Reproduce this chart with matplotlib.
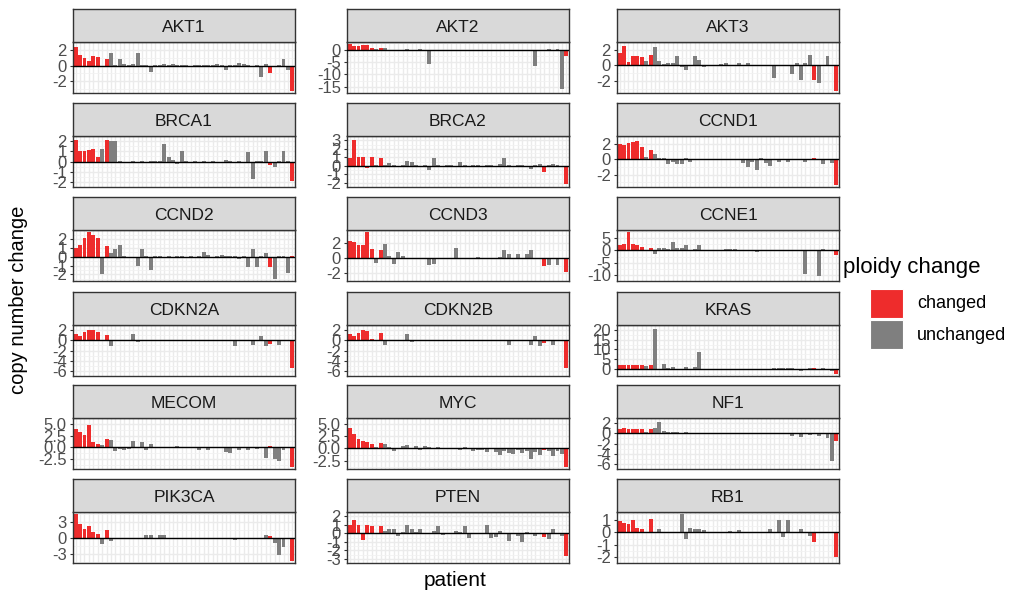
import numpy as np
import matplotlib
matplotlib.use("Agg")
import matplotlib.pyplot as plt
from matplotlib.patches import Rectangle

plt.rcParams["font.family"] = ["Liberation Sans", "DejaVu Sans"]

genes = ["AKT1", "AKT2", "AKT3", "BRCA1", "BRCA2", "CCND1",
         "CCND2", "CCND3", "CCNE1", "CDKN2A", "CDKN2B", "KRAS",
         "MECOM", "MYC", "NF1", "PIK3CA", "PTEN", "RB1"]

# patients whose ploidy changed (1-based positions on the x axis)
changed_patients = [1, 2, 3, 4, 5, 6, 8, 45, 50]

akt1 = [2.4, 1.3, 1.0, 0.6, 1.2, 1.1, -0.2, 0.8, 1.6, 0.05, 0.9, 0.2, 0.1, 0.25, 1.6, 0.05, 0.05, -0.85, 0.1, 0.05,
        0.25, 0.05, 0.15, 0.05, 0.1, 0.05, 0.0, 0.05, 0.1, 0.1, 0.1, 0.05, 0.25, 0.05, -0.5, 0.05, 0.05, 0.35, 0.15, 0.05,
        0.0, 0.05, -1.5, 0.2, -0.9, 0.0, 0.05, 0.8, -0.5, -3.2]
akt2 = [2.2, 1.3, 1.3, 1.7, 1.7, 0.7, 0.3, 0.6, 0.5, 0.05, 0.05, 0.0, 0.05, 0.3, 0.05, 0.0, 0.2, 0.05, -5.6, 0.05,
        0.0, 0.05, 0.0, 0.05, 0.0, 0.05, 0.0, 0.05, 0.0, 0.05, 0.0, 0.05, 0.0, -0.4, 0.05, 0.0, 0.05, 0.0, 0.05, 0.0,
        0.05, 0.0, -6.6, 0.05, -0.5, 0.3, 0.05, 0.1, -15.8, -2.4]
akt3 = [1.6, 2.5, 0.4, 1.15, 1.15, 1.05, 0.6, 1.35, 2.3, 0.6, 0.12, 0.3, 0.37, 1.15, -0.15, -0.6, 0.05, 1.25, 0.75, -0.15,
        0.1, 0.05, 0.05, 0.2, 0.25, 0.05, 0.05, 0.25, 0.05, 0.37, 0.05, 0.0, 0.05, 0.05, 0.05, -1.6, 0.05, 0.08, 0.05, -1.05,
        0.33, -1.85, 0.25, 1.35, -1.85, -2.3, 0.05, 1.25, 0.05, -3.25]
brca1 = [2.1, 1.05, 1.05, 1.15, 1.2, 0.45, 1.2, 2.1, 2.0, 2.0, 0.05, 0.0, -0.05, 0.05, -0.1, 0.05, 0.0, 0.05, 0.05, 0.05,
         1.75, 0.4, 0.1, -0.25, 1.0, 0.05, 0.0, 0.05, 0.0, 0.05, 0.0, 0.05, -0.05, -0.1, 0.1, 0.05, 0.0, 0.05, 0.0, 0.9,
         -1.7, 0.05, 0.05, 1.0, -0.3, -0.5, 0.05, 1.0, 0.05, -1.9]
brca2 = [0.9, 3.0, 1.05, 1.05, -0.25, 1.05, 0.05, 0.9, 0.05, 0.3, 0.05, 0.0, 0.05, 0.6, 0.4, 0.05, 0.0, 0.05, -0.5, 0.9,
         0.05, 0.0, 0.05, 0.05, 0.0, 0.45, 0.05, 0.0, 0.05, 0.05, 0.0, 0.05, 0.05, 0.0, 0.2, 0.9, 0.05, 0.0, 0.05, 0.05,
         0.0, -0.35, 0.05, 0.2, -0.7, 0.05, 0.15, 0.05, 0.0, -2.1]
ccnd1 = [2.0, 1.9, 2.1, 2.2, 2.4, 1.6, 0.3, 1.2, 0.7, 0.2, 0.1, -0.6, -0.3, -0.6, -0.6, 0.1, -0.3, 0.05, 0.05, 0.0,
         0.05, -0.1, 0.05, 0.0, 0.05, 0.0, 0.05, 0.05, -0.5, -1.0, -0.3, -1.4, 0.1, -0.5, -0.9, 0.05, -0.4, 0.05, -0.3, 0.05,
         0.05, 0.05, -0.3, 0.0, 0.2, 0.05, -0.6, 0.0, -0.5, -3.3]
ccnd2 = [1.0, 1.4, 2.2, 2.8, 2.5, 2.2, -2.0, 1.2, 0.4, 0.9, 1.35, 0.05, 0.0, -0.1, -1.0, 0.95, 0.05, -1.5, 0.05, 0.05,
         0.0, 0.05, 0.0, 0.05, 0.05, 0.0, 0.05, 0.0, 0.05, 0.5, 0.2, 0.0, 0.05, 0.25, 0.05, 0.05, 0.05, -0.2, 0.05, -1.2,
         0.95, -1.2, 0.05, 0.4, -1.2, -2.5, 0.05, 0.05, -1.85, 0.05]
ccnd3 = [2.25, 2.1, 1.7, 1.7, 3.4, 1.15, -0.7, 1.0, 1.8, 0.2, -0.8, 0.8, 0.3, 0.05, 0.05, 0.05, 0.05, 0.05, -0.95, -0.8,
         0.05, 0.05, 0.05, 0.05, 1.3, 0.05, 0.05, 0.05, 0.05, 0.15, 0.05, 0.05, 0.05, 0.05, 0.15, 1.1, 0.5, 0.05, 0.5, 0.05,
         0.5, 1.1, 0.05, 0.05, -1.0, -0.9, 0.05, -0.9, 0.05, -1.8]
ccne1 = [2.2, 2.6, 7.5, 2.6, 2.2, 1.6, 0.3, 1.0, -1.5, 1.1, 1.0, 0.6, 3.3, 1.0, 1.0, 2.3, 0.3, 0.5, 2.3, 0.2,
         0.05, 0.05, 0.05, 0.05, 0.5, 0.5, 0.5, 0.05, 0.05, 0.05, 0.05, -0.5, 0.05, 0.05, 0.05, 0.3, 0.3, 0.3, 0.05, 0.05,
         0.05, 0.05, -9.5, 0.05, 0.2, -10.5, 0.5, 0.05, 0.05, -2.0]
cdkn2a = [1.3, 0.8, 1.65, 2.0, 2.0, 1.6, 0.05, 1.1, -1.2, 0.05, 0.05, 0.05, 0.05, 1.25, -0.4, 0.05, 0.05, 0.05, 0.05, 0.05,
          -0.2, 0.05, 0.05, 0.05, 0.05, 0.05, 0.05, 0.05, 0.05, 0.05, 0.0, 0.05, 0.05, 0.05, 0.05, 0.05, -1.2, 0.05, 0.05, 0.05,
          -1.0, 0.05, 0.85, -1.2, -0.7, 0.05, -1.0, 0.05, 0.05, -5.5]
cdkn2b = [1.2, 0.8, 1.5, 2.0, 1.9, 0.2, 0.0, 1.5, -1.0, 0.05, 0.05, 0.05, 0.05, 1.2, -0.4, 0.05, 0.05, 0.05, 0.05, -0.2,
          0.05, 0.05, 0.05, 0.0, 0.05, 0.05, 0.05, 0.05, 0.05, 0.05, 0.05, 0.05, 0.05, 0.05, 0.05, 0.05, -1.0, 0.05, 0.05, 0.05,
          0.05, -0.9, 0.8, -1.1, -0.6, 0.05, -1.0, 0.05, 0.05, -5.5]
kras = [2.0, 1.9, 2.0, 2.0, 2.2, 2.0, 1.7, 2.2, 20.5, 0.05, 2.5, 0.3, 1.2, 0.05, 0.05, 0.9, 0.05, 1.2, 8.5, 0.05,
        0.05, 0.05, 0.05, 0.05, 0.05, 0.05, 0.05, 0.05, 0.05, 0.05, 0.05, 0.05, 0.05, 0.05, 0.05, 0.5, 0.4, 0.5, 0.4, 0.5,
        0.05, -1.0, 0.05, 0.6, 0.3, 0.05, 0.4, 0.05, -1.0, -2.5]
mecom = [3.9, 3.3, 2.55, 4.7, 1.1, 0.7, 0.45, 1.75, 1.45, -0.8, -0.4, -0.5, -0.3, 1.3, 0.1, 1.1, -0.5, 0.75, 0.05, 0.05,
         0.05, 0.05, 0.05, 0.3, 0.05, -0.2, 0.05, 0.05, -0.5, -0.2, -0.5, 0.05, 0.05, 0.05, -1.0, -1.2, 0.05, -0.6, 0.05, -0.6,
         0.05, -0.3, 0.05, -2.4, 0.3, -2.5, -2.9, -0.5, 0.05, -4.2]
myc = [4.3, 3.0, 2.0, 1.6, 1.3, 1.0, 0.4, 1.2, 1.0, 0.3, -0.5, 0.2, 0.5, 0.8, 0.2, 0.6, -0.3, 0.5, 0.3, 0.1,
       0.3, 0.05, 0.2, 0.2, 0.05, -0.3, 0.3, 0.2, -0.6, -0.4, -0.3, -0.8, -0.2, -0.8, -1.4, -0.5, -0.9, -1.2, -0.4, -0.9,
       -0.5, -2.2, -0.8, -1.3, -0.4, -0.6, -1.5, -0.5, -1.2, -3.8]
nf1 = [0.8, 1.0, 0.8, 0.9, 0.8, 0.9, 0.2, 0.9, 1.0, 2.3, 0.5, 0.3, 0.3, 0.2, 0.1, 0.2, 0.05, 0.1, 0.05, 0.05,
       0.05, 0.05, 0.05, 0.05, 0.05, 0.05, 0.05, 0.05, 0.05, 0.05, 0.05, 0.05, 0.05, 0.05, 0.05, 0.05, -0.2, 0.05, 0.05, -0.5,
       0.05, -0.8, 0.05, -0.3, -0.2, -0.5, 0.05, -1.0, -5.5, -1.5]
pik3ca = [4.4, 2.5, 1.6, 2.3, 1.1, 0.75, -1.1, 1.4, -0.6, 0.05, 0.05, 0.05, 0.05, 0.05, 0.05, 0.05, 0.6, 0.6, 0.05, 0.6,
          0.6, 0.05, -0.2, 0.05, 0.05, 0.05, 0.05, 0.05, 0.05, 0.05, 0.05, 0.05, -0.2, 0.05, -0.3, 0.05, -0.4, 0.05, 0.05, 0.05,
          0.05, 0.05, 0.05, 0.6, 0.3, -0.9, -3.3, -1.7, 0.05, -4.3]
pten = [1.0, 1.6, 1.0, -0.8, 1.0, 0.8, 0.05, 0.8, 0.3, 0.5, 0.5, -0.3, 0.2, 1.0, 0.5, 0.1, 0.5, 0.05, 0.05, 0.3,
        0.8, -0.2, 0.05, 0.05, 0.3, 0.1, 0.8, -0.6, 0.05, 0.05, 0.05, 1.0, -0.5, -0.4, 0.3, 0.05, -0.9, 0.05, -0.3, -1.0,
        0.2, 0.05, -0.3, 0.05, -0.4, -0.7, 0.5, 0.05, -0.3, -2.7]
rb1 = [0.9, 0.8, 0.7, 1.0, 0.4, 0.3, 0.05, 1.1, 0.05, 0.3, 0.05, 0.05, 0.05, 0.05, 1.5, -0.5, 0.4, 0.3, 0.3, 0.2,
       0.05, 0.05, 0.05, 0.05, 0.05, 0.1, 0.05, 0.2, 0.05, 0.05, 0.05, 0.05, 0.05, 0.05, 0.3, 0.05, 1.0, -0.4, 1.0, 0.05,
       0.05, 0.3, 0.05, -0.3, -0.8, 0.05, 0.05, 0.05, 0.05, -2.0]

values = [akt1, akt2, akt3, brca1, brca2, ccnd1, ccnd2, ccnd3, ccne1,
          cdkn2a, cdkn2b, kras, mecom, myc, nf1, pik3ca, pten, rb1]

y_ticks = [[-2, 0, 2], [-15, -10, -5, 0], [-2, 0, 2],
           [-2, -1, 0, 1, 2], [-2, -1, 0, 1, 2, 3], [-2, 0, 2],
           [-2, -1, 0, 1, 2], [-2, 0, 2], [-10, -5, 0, 5],
           [-6, -4, -2, 0, 2], [-6, -4, -2, 0, 2], [0, 5, 10, 15, 20],
           [-2.5, 0.0, 2.5, 5.0], [-2.5, 0.0, 2.5, 5.0], [-6, -4, -2, 0, 2],
           [-3, 0, 3], [-3, -2, -1, 0, 1, 2], [-2, -1, 0, 1]]

RED = "#EE2C2C"
GREY = "#7F7F7F"
W, H = 1010, 599

fig = plt.figure(figsize=(W / 100, H / 100), dpi=100)

col_left = [73, 347, 617]
col_width = 222
row_top = [9, 103, 197, 292, 385, 479]
strip_h = 33
panel_h = 51

n_pat = len(akt1)
x = np.arange(1, n_pat + 1)
bar_colors = [RED if p in changed_patients else GREY for p in x]

for i, (gene, vals) in enumerate(zip(genes, values)):
    r, c = divmod(i, 3)
    left = col_left[c] / W
    w = col_width / W
    ptop = row_top[r] + strip_h
    ax = fig.add_axes([left, 1 - (ptop + panel_h) / H, w, panel_h / H])
    sax = fig.add_axes([left, 1 - ptop / H, w, strip_h / H])

    # strip
    sax.set_facecolor("#D9D9D9")
    sax.set_xticks([])
    sax.set_yticks([])
    for s in sax.spines.values():
        s.set_color("#333333")
        s.set_linewidth(1.0)
    sax.text(0.5, 0.45, gene, ha="center", va="center", fontsize=12.5,
             color="#1A1A1A", transform=sax.transAxes)

    # y range like ggplot: include 0, expand 5%
    lo = min(min(vals), 0)
    hi = max(max(vals), 0)
    pad = (hi - lo) * 0.05
    ax.set_ylim(lo - pad, hi + pad)
    ax.set_xlim(0.4, n_pat + 0.6)

    ticks = y_ticks[i]
    ax.set_yticks(ticks)
    if gene in ("MECOM", "MYC"):
        ax.set_yticklabels([f"{t:.1f}" for t in ticks])
    else:
        ax.set_yticklabels([f"{t:g}" for t in ticks])
    minors = [(a + b) / 2 for a, b in zip(ticks[:-1], ticks[1:])]
    step = ticks[1] - ticks[0]
    minors += [ticks[0] - step / 2, ticks[-1] + step / 2]
    ax.set_yticks(minors, minor=True)
    ax.tick_params(axis="y", which="major", labelsize=12, labelcolor="#4D4D4D",
                   color="#333333", length=2.5, width=0.8, pad=2)
    ax.tick_params(axis="y", which="minor", length=0)
    ax.set_xticks([])

    # grid
    for xv in x:
        ax.axvline(xv, color="#EBEBEB", lw=1.0, zorder=0)
    for yv in ticks:
        ax.axhline(yv, color="#EBEBEB", lw=1.0, zorder=0)
    for yv in minors:
        ax.axhline(yv, color="#F2F2F2", lw=0.6, zorder=0)

    ax.bar(x, vals, width=0.9, color=bar_colors, zorder=2)
    ax.axhline(0, color="black", lw=1.0, zorder=3)

    for s in ax.spines.values():
        s.set_color("#333333")
        s.set_linewidth(1.0)

# axis titles
fig.text(455 / W, 1 - 581 / H, "patient", ha="center", va="center", fontsize=15)
fig.text(19 / W, 1 - 300 / H, "copy number change", ha="center", va="center",
         rotation=90, fontsize=14.5)

# legend
fig.text(843 / W, 1 - 268 / H, "ploidy change", ha="left", va="center", fontsize=16)
for k, (lab, col) in enumerate([("changed", RED), ("unchanged", GREY)]):
    y0 = 289 + k * 31
    fig.patches.append(Rectangle((870 / W, 1 - (y0 + 29) / H), 33 / W, 29 / H,
                                 transform=fig.transFigure, facecolor=col,
                                 edgecolor="white", lw=0.8))
    fig.text(917 / W, 1 - (y0 + 15) / H, lab, ha="left", va="center", fontsize=13)

fig.savefig("out.png", dpi=100)
